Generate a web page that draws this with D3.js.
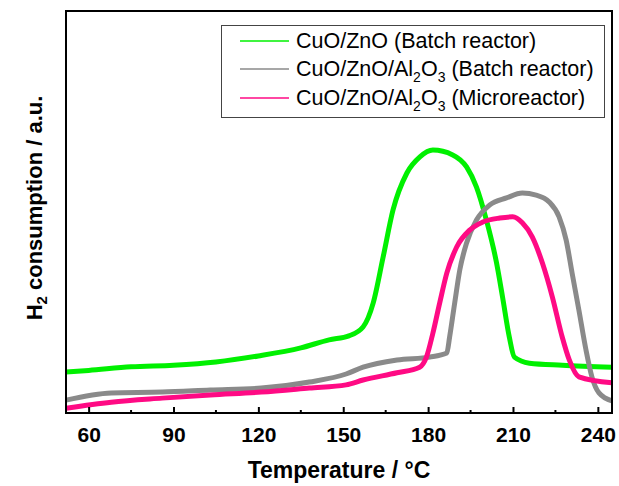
<!DOCTYPE html>
<html>
<head>
<meta charset="utf-8">
<script src="https://cdn.jsdelivr.net/npm/d3@7"></script>
<style>
  body { margin: 0; background: #fff; }
  text { font-family: "Liberation Sans", Arial, sans-serif; }
</style>
</head>
<body>
<svg class="chart"></svg>
<script>
var width = 619,
    height = 486,
    margin = {
        top: 11,
        right: 7,
        bottom: 73,
        left: 66
    }

// temperature (°C) / H2 consumption (a.u.)
var greenT = [52, 60, 75, 90, 105, 120, 135, 145, 152, 157, 160.6, 164.1, 167.6, 172.5, 177.1, 181.7, 188.7, 193.6, 197.1, 200.6, 204.2, 206.3, 208.7, 210.5, 215.8, 227.4, 245]
var greenV = [10.2, 10.6, 11.5, 11.9, 12.7, 14.2, 16.2, 18.2, 19.2, 21.4, 27.4, 38.8, 50.5, 59.7, 63.7, 65.4, 64.2, 61.2, 56.2, 48.0, 37.3, 28.9, 18.9, 13.9, 12.4, 11.9, 11.4]

var grayT = [52, 68, 86, 103, 121, 138, 151, 157, 169, 180.6, 186.6, 187.6, 189.4, 191.2, 193.6, 197.1, 201.7, 207.7, 213.3, 218.2, 222.8, 226.3, 228.8, 230.9, 233.3, 235.8, 237.9, 240.4, 245]
var grayV = [3.2, 5.0, 5.2, 5.7, 6.2, 7.7, 9.7, 11.4, 13.2, 13.9, 14.9, 18.9, 27.4, 35.6, 42.3, 48.0, 51.7, 53.5, 54.7, 54.2, 52.5, 48.8, 43.0, 34.8, 25.6, 15.7, 9.0, 5.0, 3.0]

var pinkT = [52, 68, 86, 103, 121, 138, 151, 157, 169, 177, 179.4, 181.7, 184.1, 186.6, 190.1, 194.7, 199.3, 205.3, 209.9, 213.3, 216.8, 220.4, 223.9, 227.4, 229.9, 233.3, 245]
var pinkV = [1.2, 2.7, 3.7, 4.5, 5.2, 6.2, 7.0, 8.2, 10.0, 11.4, 13.9, 19.9, 27.4, 34.8, 41.3, 45.5, 47.5, 48.5, 48.8, 47.3, 43.8, 37.3, 28.9, 18.9, 13.2, 9.0, 7.5]

var xTicks = [60, 90, 120, 150, 180, 210, 240]
var xMinor = [75, 105, 135, 165, 195, 225]

var series = [
    { name: ["CuO/ZnO (Batch reactor)"], t: greenT, v: greenV, color: "#00f000" },
    { name: ["CuO/ZnO/Al", "2", "O", "3", " (Batch reactor)"], t: grayT, v: grayV, color: "#8a8a8a" },
    { name: ["CuO/ZnO/Al", "2", "O", "3", " (Microreactor)"], t: pinkT, v: pinkV, color: "#ff0a84" }
]

var chart = d3.select(".chart")
    .attr("width", width)
    .attr("height", height)

var xScale = d3.scaleLinear()
    .domain([52, 245])
    .range([margin.left, width - margin.right])
var yScale = d3.scaleLinear()
    .domain([0, 100])
    .range([height - margin.bottom, margin.top])

var plot = chart.append("g")

var line = d3.line()
    .x(d => xScale(d[0]))
    .y(d => yScale(d[1]))
    .curve(d3.curveMonotoneX)

plot.selectAll("path")
    .data(series)
    .join("path")
    .attr("fill", "none")
    .attr("stroke", d => d.color)
    .attr("stroke-width", 5)
    .attr("stroke-linejoin", "round")
    .attr("d", d => line(d.t.map((t, i) => [t, d.v[i]])))

// bottom axis, ticks pointing in
var xAxisCall = d3.axisBottom(xScale)
    .tickValues(xTicks)
    .tickSize(-6)
    .tickPadding(14)
    .tickFormat(d3.format("d"))

chart.append("g")
    .attr("class", "x axis")
    .attr("transform", `translate(0,${height - margin.bottom})`)
    .call(xAxisCall)
    .call(g => g.select(".domain").remove())
    .call(g => g.selectAll(".tick line").attr("stroke", "#000").attr("stroke-width", 2))
    .call(g => g.selectAll(".tick text")
        .attr("fill", "#000")
        .attr("font-size", 21)
        .attr("font-weight", "bold")
        .attr("font-family", "Liberation Sans, Arial, sans-serif"))

chart.append("g")
    .selectAll("line")
    .data(xMinor)
    .join("line")
    .attr("x1", d => xScale(d))
    .attr("x2", d => xScale(d))
    .attr("y1", height - margin.bottom)
    .attr("y2", height - margin.bottom - 3)
    .attr("stroke", "#000")
    .attr("stroke-width", 2)

// frame
chart.append("rect")
    .attr("x", margin.left)
    .attr("y", margin.top)
    .attr("width", width - margin.left - margin.right)
    .attr("height", height - margin.top - margin.bottom)
    .attr("fill", "none")
    .attr("stroke", "#000")
    .attr("stroke-width", 2)

// axis titles
chart.append("text")
    .attr("x", (margin.left + width - margin.right) / 2)
    .attr("y", 478)
    .attr("text-anchor", "middle")
    .attr("font-size", 23)
    .attr("font-weight", "bold")
    .text("Temperature / °C")

var yTitle = chart.append("text")
    .attr("transform", "translate(42,208) rotate(-90)")
    .attr("text-anchor", "middle")
    .attr("font-size", 22)
    .attr("font-weight", "bold")
yTitle.append("tspan").text("H")
yTitle.append("tspan").attr("font-size", 15).attr("dy", 5).text("2")
yTitle.append("tspan").attr("dy", -5).text(" consumption / a.u.")

// legend
var legend = chart.append("g")
legend.append("rect")
    .attr("x", 221.5)
    .attr("y", 25.5)
    .attr("width", 383)
    .attr("height", 92)
    .attr("fill", "#fff")
    .attr("stroke", "#444")
    .attr("stroke-width", 1)

var rowY = [48, 76, 105]
series.forEach(function (s, i) {
    legend.append("line")
        .attr("x1", 240)
        .attr("x2", 289)
        .attr("y1", rowY[i] - 7)
        .attr("y2", rowY[i] - 7)
        .attr("stroke", s.color)
        .attr("stroke-width", 1.5)
    var t = legend.append("text")
        .attr("x", 296)
        .attr("y", rowY[i])
        .attr("font-size", 21.5)
        .attr("fill", "#000")
    s.name.forEach(function (part, j) {
        var sub = s.name.length > 1 && (j === 1 || j === 3)
        var tp = t.append("tspan").text(part)
        if (sub) tp.attr("font-size", 14).attr("dy", 6)
        else if (j > 0) tp.attr("dy", -6)
    })
})
</script>
</body>
</html>
